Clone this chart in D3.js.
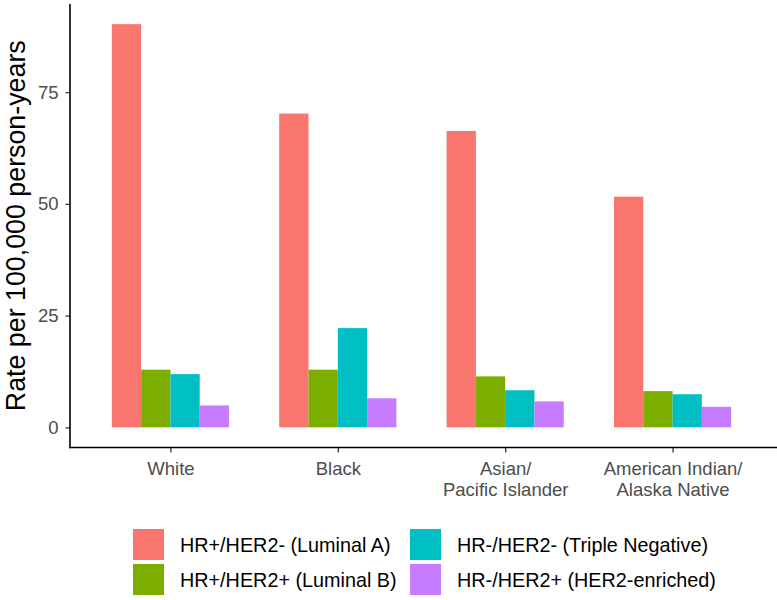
<!DOCTYPE html>
<html>
<head>
<meta charset="utf-8">
<script src="https://cdn.jsdelivr.net/npm/d3@7"></script>
<style>
  html, body { margin: 0; padding: 0; background: #fff; }
  svg { display: block; font-family: "Liberation Sans", Arial, sans-serif; }
</style>
</head>
<body>
<svg id="chart" width="777" height="600"></svg>
<script>
// ---- data ----
const categories = ["White", "Black", "Asian/\nPacific Islander", "American Indian/\nAlaska Native"];
const seriesNames = ["HR+/HER2- (Luminal A)", "HR+/HER2+ (Luminal B)", "HR-/HER2- (Triple Negative)", "HR-/HER2+ (HER2-enriched)"];
const luminalA = [90.2, 70.2, 66.3, 51.6];
const luminalB = [12.9, 12.9, 11.4, 8.1];
const tripleNegative = [11.9, 22.2, 8.3, 7.4];
const her2Enriched = [4.9, 6.5, 5.8, 4.6];
const yTicks = [0, 25, 50, 75];
const colors = ["#F8766D", "#7CAE00", "#00BFC4", "#C77CFF"];

const seriesValues = [luminalA, luminalB, tripleNegative, her2Enriched];
const rows = [];
categories.forEach((c, i) => seriesNames.forEach((s, j) => rows.push({cat: c, series: s, value: seriesValues[j][i]})));

const svg = d3.select("#chart");
const panel = {left: 70, right: 773, top: 4, bottom: 447.5};

const maxV = d3.max(rows, d => d.value);
const pad = maxV * 0.05;
const y = d3.scaleLinear().domain([-pad, maxV + pad]).range([panel.bottom, panel.top]);
const x = d3.scalePoint().domain(categories).range([panel.left, panel.right]).padding(0.6);
const groupW = x.step() * 0.7;
const xs = d3.scaleBand().domain(seriesNames).range([-groupW / 2, groupW / 2]).padding(0);
const color = d3.scaleOrdinal().domain(seriesNames).range(colors);

// bars
svg.append("g").selectAll("rect").data(rows).join("rect")
  .attr("x", d => x(d.cat) + xs(d.series))
  .attr("width", xs.bandwidth())
  .attr("y", d => y(d.value))
  .attr("height", d => y(0) - y(d.value))
  .attr("fill", d => color(d.series));

// y axis
const yAxis = d3.axisLeft(y).tickValues(yTicks).tickSize(4.5).tickPadding(7).tickSizeOuter(0);
const gy = svg.append("g").attr("transform", `translate(${panel.left},0)`).call(yAxis);
gy.select(".domain").remove();
gy.selectAll(".tick line").attr("stroke", "#333").attr("stroke-width", 1.3);
gy.selectAll(".tick text").attr("fill", "#4d4d4d").style("font-size", "18.5px")
  .style("font-family", "Liberation Sans, Arial, sans-serif");
svg.append("line").attr("x1", panel.left).attr("x2", panel.left)
  .attr("y1", panel.top).attr("y2", panel.bottom + 0.8)
  .attr("stroke", "#000").attr("stroke-width", 1.6);

// x axis
const xAxis = d3.axisBottom(x).tickSize(5).tickSizeOuter(0).tickFormat(() => "");
const gx = svg.append("g").attr("transform", `translate(0,${panel.bottom})`).call(xAxis);
gx.select(".domain").remove();
gx.selectAll(".tick line").attr("stroke", "#333").attr("stroke-width", 1.3);
svg.append("line").attr("x1", panel.left - 0.8).attr("x2", 777)
  .attr("y1", panel.bottom).attr("y2", panel.bottom)
  .attr("stroke", "#000").attr("stroke-width", 1.6);
gx.selectAll(".tick").each(function(d) {
  const lines = d.split("\n");
  const t = d3.select(this).append("text")
    .attr("text-anchor", "middle").attr("fill", "#4d4d4d")
    .style("font-size", "18.5px");
  lines.forEach((ln, k) => t.append("tspan").attr("x", 0).attr("y", 27.5 + k * 20.8).text(ln));
});

// y axis title
svg.append("text")
  .attr("transform", `translate(25,${(panel.top + panel.bottom) / 2}) rotate(-90)`)
  .attr("text-anchor", "middle").attr("fill", "#000")
  .style("font-size", "26.8px")
  .text("Rate per 100,000 person-years");

// legend (2 columns, column-major)
const legendCols = [133, 410];
const legendRows = [529, 564];
const lg = svg.append("g");
seriesNames.forEach((s, i) => {
  const col = Math.floor(i / 2), row = i % 2;
  lg.append("rect").attr("x", legendCols[col]).attr("y", legendRows[row])
    .attr("width", 31).attr("height", 31).attr("fill", color(s));
  lg.append("text").attr("x", legendCols[col] + 47).attr("y", legendRows[row] + 22.5)
    .attr("fill", "#000").style("font-size", "19.8px").text(s);
});
</script>
</body>
</html>
